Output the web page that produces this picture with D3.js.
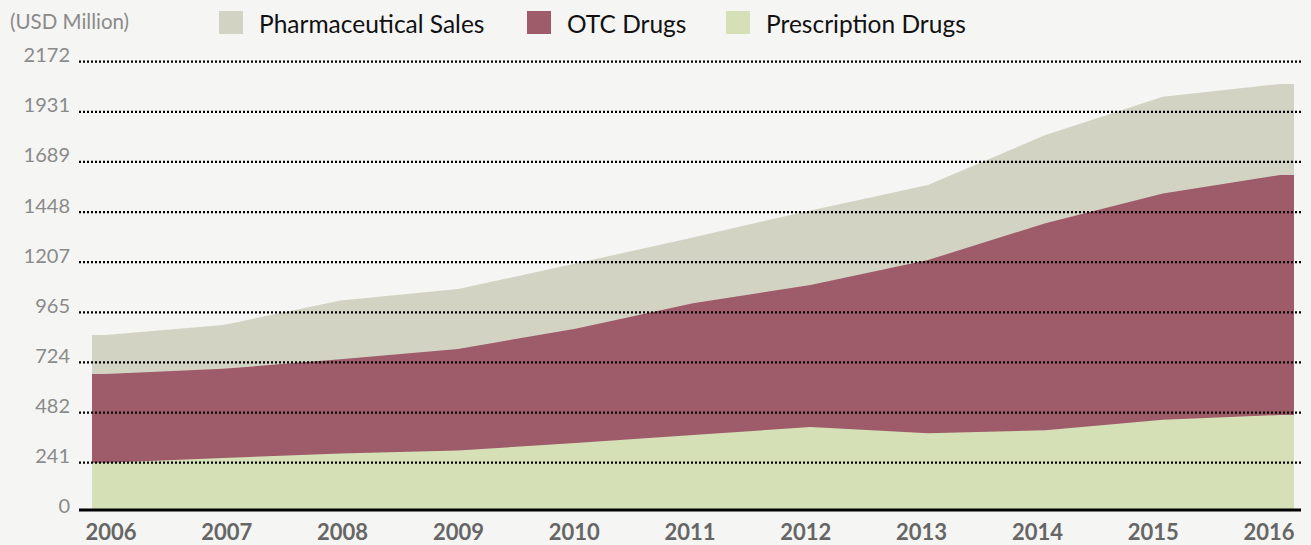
<!DOCTYPE html>
<html>
<head>
<meta charset="utf-8">
<script src="https://cdn.jsdelivr.net/npm/d3@7"></script>
<style>
    body { margin: 0; background: #f5f5f3; }
    svg { display: block; font-family: Lato, "Open Sans", sans-serif; }
</style>
</head>
<body>
<svg id="chart" width="1311" height="545"></svg>
<script>
// Chart data (USD Million)
const years = ["2006", "2007", "2008", "2009", "2010", "2011", "2012", "2013", "2014", "2015", "2016"];
const pharmaSales = [856, 904, 1022, 1078, 1200, 1326, 1456, 1578, 1819, 2003, 2065];
const otcDrugs = [668, 693, 739, 789, 886, 1009, 1097, 1217, 1394, 1538, 1627];
const prescriptionDrugs = [241, 264, 285, 300, 336, 374, 413, 383, 397, 448, 471];

const tickLabels = ["0", "241", "482", "724", "965", "1207", "1448", "1689", "1931", "2172"];
const yMax = 2172;

const seriesNames = ["Pharmaceutical Sales", "OTC Drugs", "Prescription Drugs"];
const seriesColors = ["#d3d3c4", "#9e5b6a", "#d6e0b6"];

function drawChart(svg) {
    const plotLeft = 92, plotRight = 1294;
    const gridLeft = 79, gridRight = 1301;
    const axisY = 510;

    // x scale for the data points, labels sit on a slightly narrower scale
    const x = d3.scalePoint().domain(years).range([plotLeft, plotRight]).padding(0.116);
    const xLabel = d3.scalePoint().domain(years).range([111, 1269]);

    const y = d3.scaleLinear().domain([0, yMax]).range([512.8, 61.7]);

    const series = [pharmaSales, otcDrugs, prescriptionDrugs];

    // areas, drawn back to front; the ends are stretched out to the plot edges
    const area = d3.area()
        .x(d => d.x)
        .y0(axisY)
        .y1(d => y(d.v));

    series.forEach((values, i) => {
        const pts = values.map((v, j) => ({ x: x(years[j]), v: v }));
        pts.unshift({ x: plotLeft, v: values[0] });
        pts.push({ x: plotRight, v: values[values.length - 1] });
        svg.append("path")
            .attr("d", area(pts))
            .style("fill", seriesColors[i]);
    });

    // dotted gridlines on top of the areas
    const tickValues = tickLabels.map((t, i) => i * yMax / (tickLabels.length - 1));
    svg.append("g")
        .selectAll("line")
        .data(tickValues.slice(1))
        .enter().append("line")
        .attr("x1", gridLeft)
        .attr("x2", gridRight)
        .attr("y1", d => y(d))
        .attr("y2", d => y(d))
        .style("stroke", "#000")
        .style("stroke-width", 2.2)
        .style("stroke-dasharray", "2,2");

    // y tick labels
    svg.append("g")
        .selectAll("text")
        .data(tickValues)
        .enter().append("text")
        .attr("x", 70)
        .attr("y", d => y(d) + 0.5)
        .attr("text-anchor", "end")
        .style("font-size", "20px")
        .style("fill", "#8a8a8a")
        .text((d, i) => tickLabels[i]);

    // axis line
    svg.append("line")
        .attr("x1", gridLeft)
        .attr("x2", gridRight)
        .attr("y1", axisY)
        .attr("y2", axisY)
        .style("stroke", "#000")
        .style("stroke-width", 3);

    // year labels
    svg.append("g")
        .selectAll("text")
        .data(years)
        .enter().append("text")
        .attr("x", d => xLabel(d))
        .attr("y", 540)
        .attr("text-anchor", "middle")
        .style("font-size", "22px")
        .style("font-weight", "bold")
        .style("fill", "#666")
        .text(d => d);

    // unit label
    svg.append("text")
        .attr("x", 10)
        .attr("y", 29)
        .style("font-size", "20.5px")
        .style("fill", "#8a8a8a")
        .text("(USD Million)");

    // legend
    const legendX = [219, 527, 726];
    const legend = svg.append("g")
        .selectAll("g")
        .data(seriesNames)
        .enter().append("g")
        .attr("transform", (d, i) => "translate(" + legendX[i] + ",11)");

    legend.append("rect")
        .attr("width", 24)
        .attr("height", 23)
        .style("fill", (d, i) => seriesColors[i]);

    legend.append("text")
        .attr("x", 40)
        .attr("y", 22.3)
        .style("font-size", "24.5px")
        .style("fill", "#111")
        .text(d => d);
}

drawChart(d3.select("#chart"));
</script>
</body>
</html>
